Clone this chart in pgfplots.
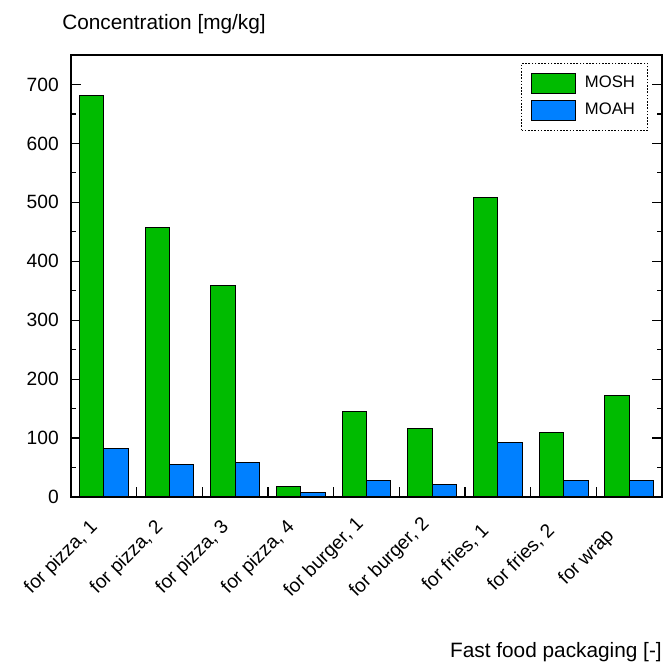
\documentclass[border=0pt]{standalone}
\usepackage{pgfplots}
\pgfplotsset{compat=1.18}
\usepackage{fontspec}
\setmainfont{Liberation Sans}
\definecolor{mosh}{RGB}{0,187,0}
\definecolor{moah}{RGB}{0,128,255}
\begin{document}
\fontsize{14}{16.8}\selectfont
\begin{tikzpicture}
\begin{axis}[
  name=main,
  scale only axis, width=443.25pt, height=331.5pt,
  xmin=-0.5, xmax=8.5, ymin=0, ymax=750,
  ybar=0pt, bar width=0.373,
  legend image code/.code={\draw[#1] (0pt,-7.5pt) rectangle (33pt,7.5pt); \path (37.25pt,0pt);},
  axis line style={line width=1pt},
  every tick/.style={black, line width=0.9pt},
  tick align=inside,
  major tick length=7.5pt, minor tick length=3.75pt,
  ytick={0,100,...,700}, minor y tick num=1,
  ytick pos=both,
  xtick pos=bottom,
  xtick={0,1,2,3,4,5,6,7,8},
  xticklabels={for pizza{,} 1, for pizza{,} 2, for pizza{,} 3, for pizza{,} 4, for burger{,} 1, for burger{,} 2, for fries{,} 1, for fries{,} 2, for wrap},
  xtick style={draw=none},
  extra x ticks={0.5,1.5,2.5,3.5,4.5,5.5,6.5,7.5},
  extra x tick labels={},
  extra x tick style={xtick style={draw=black}},
  xticklabel style={xshift=-31.8pt, yshift=-45.5pt, rotate=45, anchor=center},
  yticklabel style={xshift=-4.3pt},
  /pgf/number format/assume math mode=true,
  ticklabel style={font=\fontsize{14.4}{17}\selectfont},
  legend style={draw=black, dash pattern=on 1.2pt off 1.2pt, line width=0.6pt,
    at={(1,1)}, anchor=north east, xshift=-10.5pt, yshift=-6pt,
    inner xsep=7pt, inner ysep=7pt, row sep=4.5pt,
    nodes={inner sep=2.5pt, font=\fontsize{12.5}{15}\selectfont}},
  legend cell align=left,
]
\addplot[fill=mosh, draw=black, line width=0.75pt, bar shift=-0.1865] coordinates {
  (0,681) (1,457) (2,359) (3,17.5) (4,145) (5,116) (6,509) (7,110) (8,173)};
\addplot[fill=moah, draw=black, line width=0.75pt, bar shift=0.1865] coordinates {
  (0,81.5) (1,54.6) (2,59) (3,8) (4,28) (5,22) (6,92) (7,28) (8,28)};
\legend{MOSH, MOAH}
\end{axis}
\node[anchor=base west, inner sep=0pt, font=\fontsize{15.6}{18}\selectfont] at ([xshift=-6.75pt, yshift=19.3pt]main.north west) {Concentration [mg/kg]};
\node[anchor=base east, inner sep=0pt, font=\fontsize{15.6}{18}\selectfont] at ([yshift=-120.75pt]main.south east) {Fast food packaging [-]};
\path ([xshift=-53.25pt, yshift=-124.5pt]main.south west) rectangle ([xshift=6.75pt, yshift=41.25pt]main.north east);
\end{tikzpicture}
\end{document}
